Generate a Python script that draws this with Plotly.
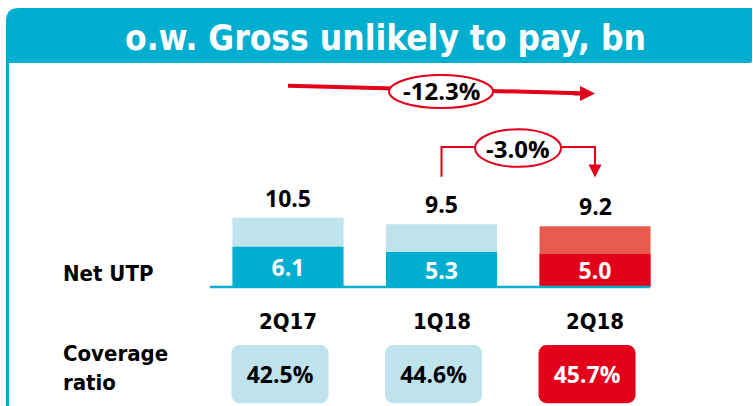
import plotly.graph_objects as go

# ── data ──
quarters = ["2Q17", "1Q18", "2Q18"]
gross_utp = [10.5, 9.5, 9.2]
net_utp = [6.1, 5.3, 5.0]
coverage = [42.5, 44.6, 45.7]
change_labels = ["-12.3%", "-3.0%"]

TEAL = "#00AECF"
LIGHT = "#BFE3EC"
RED = "#E2001A"
CORAL = "#E85C50"
NUM_FONT = "Open Sans, Lato, sans-serif"
DIN_FONT = "Liberation Sans Narrow, DejaVu Sans Condensed, sans-serif"

total_colors = [LIGHT, LIGHT, CORAL]
net_colors = [TEAL, TEAL, RED]
box_colors = [LIGHT, LIGHT, RED]
box_text_colors = ["black", "black", "white"]

num_font = dict(family=NUM_FONT, size=23, color="black", weight="bold")
pct_font = dict(family=NUM_FONT, size=24, color="black", weight="bold")
din_font = dict(family=DIN_FONT, size=22, color="black", weight="bold")

fig = go.Figure()

# ── gross bars (light) with net bars drawn on top ──
fig.add_trace(go.Bar(
    x=quarters, y=gross_utp, width=0.723,
    marker=dict(color=total_colors, line_width=0),
    hoverinfo="skip",
))
fig.add_trace(go.Bar(
    x=quarters, y=net_utp, width=0.723,
    marker=dict(color=net_colors, line_width=0),
    text=[f"{v:.1f}" for v in net_utp],
    textposition="inside", insidetextanchor="middle",
    textfont=dict(num_font, color="white"),
    hoverinfo="skip",
))

# ── coverage ratio boxes ──
fig.add_trace(go.Bar(
    x=quarters, y=[8.8] * len(quarters), base=-17.6,
    width=0.632, offset=-0.368,
    marker=dict(color=box_colors, line_width=0, cornerradius=8),
    text=[f"{v:.1f}%" for v in coverage],
    textposition="inside", insidetextanchor="middle",
    textfont=dict(pct_font, color=box_text_colors),
    hoverinfo="skip",
))

# gross values above bars
for q, v in zip(quarters, gross_utp):
    fig.add_annotation(x=q, y=v, text=f"{v:.1f}", showarrow=False,
                       yshift=20, yanchor="middle", font=num_font)

# quarter labels
for q in quarters:
    fig.add_annotation(x=q, y=-5.3, text=q, showarrow=False,
                       yanchor="middle", font=din_font)

W, H = 753.0, 406.0

# row labels
fig.add_annotation(x=61 / W, y=1 - 273 / H, xref="paper", yref="paper",
                   text="Net UTP", showarrow=False,
                   xanchor="left", yanchor="middle", font=din_font)
fig.add_annotation(x=61 / W, y=1 - 368 / H, xref="paper", yref="paper",
                   text="Coverage<br>ratio", showarrow=False, align="left",
                   xanchor="left", yanchor="middle", font=din_font)

# baseline
fig.add_shape(type="line", x0=-0.508, x1=2.358, y0=0, y1=0,
              line=dict(color=TEAL, width=2.5))

# ── -12.3% arrow: 2Q17 -> 2Q18 ──
fig.add_shape(type="line", x0=0, y0=30.5, x1=1.9, y1=29.36,
              line=dict(color=RED, width=4))
fig.add_annotation(
    x=quarters[2], y=29.3, ax=1.85, ay=29.33, axref="x", ayref="y",
    text="", showarrow=True, arrowhead=2, arrowsize=0.75, arrowwidth=4,
    arrowcolor=RED, standoff=0,
)
fig.add_shape(type="circle", x0=0.658, x1=1.336, y0=27.1, y1=32.1,
              fillcolor="white", line=dict(color=RED, width=2))
fig.add_annotation(x=0.997, y=29.7, text=change_labels[0], showarrow=False,
                   yanchor="middle", font=pct_font)

# ── -3.0% bracket arrow: 1Q18 -> 2Q18 ──
fig.add_shape(type="path", path="M 1,16.7 L 1,21.2 L 2,21.2 L 2,19",
              line=dict(color=RED, width=2))
fig.add_annotation(
    x=quarters[2], y=16.6, ax=quarters[2], ay=21.2, axref="x", ayref="y",
    text="", showarrow=True, arrowhead=2, arrowsize=1.3, arrowwidth=2,
    arrowcolor=RED, standoff=0,
)
fig.add_shape(type="circle", x0=1.218, x1=1.779, y0=18.2, y1=23.9,
              fillcolor="white", line=dict(color=RED, width=2))
fig.add_annotation(x=1.5, y=21.05, text=change_labels[1], showarrow=False,
                   yanchor="middle", font=pct_font)


# ── header band with rounded top-left corner, and left frame line ──
def px(x, y):
    return f"{x / W:.5f},{1 - y / H:.5f}"


header = (f"M {px(6, 63)} L {px(6, 21)} Q {px(6, 8)} {px(19, 8)} "
          f"L {px(752, 8)} L {px(752, 61)} Q {px(752, 63)} {px(750, 63)} Z")
fig.add_shape(type="path", xref="paper", yref="paper", path=header,
              fillcolor=TEAL, line_width=0)
fig.add_shape(type="line", xref="paper", yref="paper",
              x0=7.5 / W, x1=7.5 / W, y0=1 - 63 / H, y1=0,
              line=dict(color=TEAL, width=3))
fig.add_annotation(x=385 / W, y=1 - 38 / H, xref="paper", yref="paper",
                   text="o.w. Gross unlikely to pay, bn", showarrow=False,
                   xanchor="center", yanchor="middle",
                   font=dict(family=DIN_FONT, size=35, color="white",
                             weight="bold"))

fig.update_layout(
    width=753, height=406,
    margin=dict(l=0, r=0, t=0, b=0),
    paper_bgcolor="white", plot_bgcolor="white",
    barmode="overlay", showlegend=False, hovermode=False,
    xaxis=dict(range=[-1.876, 3.029], visible=False, fixedrange=True),
    yaxis=dict(range=[-18.03, 43.48], visible=False, fixedrange=True),
    uniformtext=dict(minsize=23, mode="show"),
)

fig.write_html("out.html", config={"displayModeBar": False},
               post_script="document.body.style.margin='0';")
